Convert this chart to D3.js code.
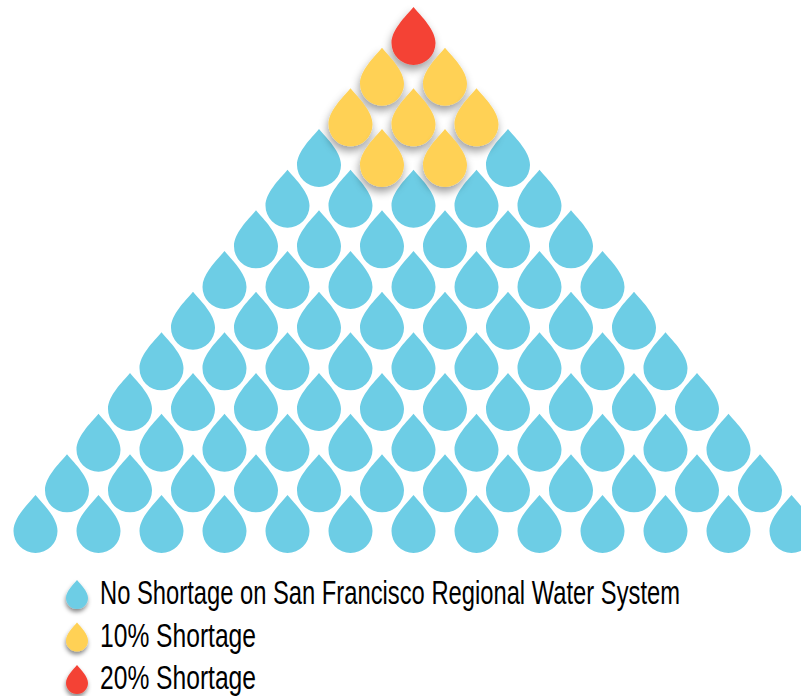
<!DOCTYPE html>
<html><head><meta charset="utf-8">
<script src="https://d3js.org/d3.v7.min.js"></script>
<style>html,body{margin:0;padding:0;background:#fff;overflow:hidden}svg{display:block}</style>
</head><body><div id="c"></div>
<script>
const categories = ["No Shortage on San Francisco Regional Water System","10% Shortage","20% Shortage"];
const colors = ["#6dcde5","#ffd154","#f44336"];
// one code per drop, rows from the top: index into categories
const rows = [
 [2],
 [1,1],
 [1,1,1],
 [0,1,1,0],
 [0,0,0,0,0],
 [0,0,0,0,0,0],
 [0,0,0,0,0,0,0],
 [0,0,0,0,0,0,0,0],
 [0,0,0,0,0,0,0,0,0],
 [0,0,0,0,0,0,0,0,0,0],
 [0,0,0,0,0,0,0,0,0,0,0],
 [0,0,0,0,0,0,0,0,0,0,0,0],
 [0,0,0,0,0,0,0,0,0,0,0,0,0]
];
const W=801,H=696;
const svg=d3.select("#c").append("svg").attr("width",W).attr("height",H);
const defs=svg.append("defs");
function shadow(id,dy,blur,op){
  const f=defs.append("filter").attr("id",id).attr("x","-60%").attr("y","-60%").attr("width","220%").attr("height","220%");
  f.append("feDropShadow").attr("dx",-1).attr("dy",dy).attr("stdDeviation",blur).attr("flood-color","#000").attr("flood-opacity",op);
}
shadow("s",5,4.5,.38);
shadow("l",6,4,.46);
const dropPath="M0,-36C8.5,-26 22,-13 22,0A22,22 0 0 1 -22,0C-22,-13 -8.5,-26 0,-36Z";
const yRow=d3.scaleLinear().domain([0,12]).range([43,531]);
const xCol=d3.scaleLinear().domain([-6,6]).range([35.5,791.5]);
const drops=rows.flatMap((r,i)=>r.map((c,j)=>({c,i,pos:j-i/2})));
svg.append("g").selectAll("path").data(drops.sort((a,b)=>(a.c>0)-(b.c>0))).join("path")
  .attr("d",dropPath)
  .attr("transform",d=>`translate(${xCol(d.pos)},${yRow(d.i)})`)
  .attr("fill",d=>colors[d.c])
  .attr("filter",d=>d.c>0?"url(#s)":null);
const yLeg=d3.scalePoint().domain(categories).range([598,683]);
const textW=[580,156,156];
const g=svg.append("g").selectAll("g").data(categories).join("g")
  .attr("transform",d=>`translate(0,${yLeg(d)})`);
g.append("path").attr("d",dropPath)
  .attr("transform","translate(77,0) scale(0.5)")
  .attr("fill",(d,i)=>colors[i]).attr("filter","url(#l)");
g.append("text").text(d=>d)
  .attr("font-family","'Liberation Sans',sans-serif")
  .attr("font-size",33).attr("fill","#000")
  .attr("transform",function(d,i){
    const k=textW[i]/this.getComputedTextLength();
    return `translate(100,6) scale(${k},1)`;
  });
</script></body></html>
